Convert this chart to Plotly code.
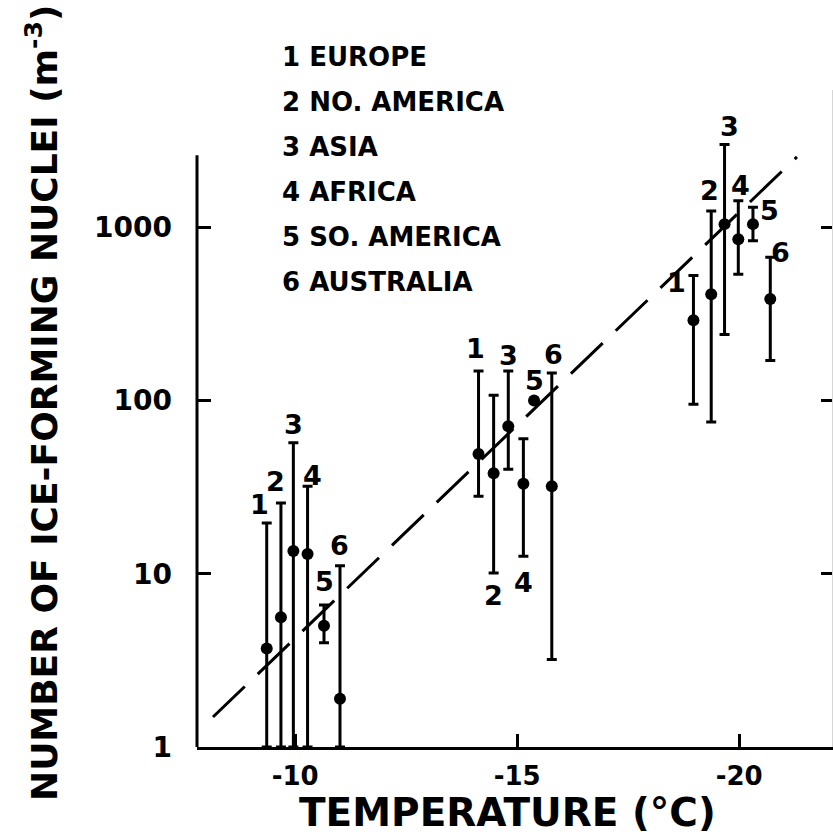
import math
import plotly.graph_objects as go

# ---- data -------------------------------------------------------------
regions = ["EUROPE", "NO. AMERICA", "ASIA", "AFRICA", "SO. AMERICA", "AUSTRALIA"]

# measurements grouped around -10 °C (region order as above)
temp_10 = [-9.36, -9.68, -9.96, -10.28, -10.65, -11.01]
ifn_10 = [3.7, 5.6, 13.5, 13.0, 5.0, 1.9]
ifn_10_high = [19.6, 25.6, 57.0, 32.0, 6.6, 11.1]
ifn_10_low = [1.0, 1.0, 1.0, 1.0, 4.0, 1.0]

# measurements grouped around -15 °C
temp_15 = [-14.13, -14.47, -14.80, -15.14, -15.38, -15.78]
ifn_15 = [49.0, 38.0, 71.0, 33.0, 100.0, 32.0]
ifn_15_high = [148.0, 107.0, 148.0, 60.0, 100.0, 144.0]
ifn_15_low = [28.0, 10.1, 40.0, 12.6, 100.0, 3.2]

# measurements grouped around -20 °C
temp_20 = [-18.97, -19.37, -19.67, -19.98, -20.31, -20.70]
ifn_20 = [290.0, 410.0, 1040.0, 850.0, 1040.0, 385.0]
ifn_20_high = [525.0, 1240.0, 3000.0, 1420.0, 1300.0, 670.0]
ifn_20_low = [95.0, 75.0, 240.0, 535.0, 835.0, 170.0]

# fitted exponential trend (end points)
fit_temp = [-8.15, -21.3]
fit_ifn = [1.49, 2540.0]

x_tickvals = [-10, -15, -20]
x_ticktext = ["-10", "-15", "-20"]
y_tickvals = [1, 10, 100, 1000]
y_ticktext = ["1", "10", "100", "1000"]
y_axis_top = 2600.0   # where the drawn left axis line ends

# ---- layout constants -------------------------------------------------
W, H = 833, 837
ML, MR, MT, MB = 197, 1, 90, 90
X_RANGE = [-7.79, -22.09]
Y_RANGE = [0.0, 3.791]
FONT = "DejaVu Sans"

# number labels: (anchor, x shift px, y shift px, +y = up)
label_style_10 = [("high", -7, 19), ("high", -5, 21), ("high", 0, 18),
                  ("high", 5, 11), ("high", 0, 23), ("high", 0, 20)]
label_style_15 = [("high", -3, 22), ("low", 0, -23), ("high", 0, 15),
                  ("low", 0, -26), ("value", 0, 20), ("high", 2, 18)]
label_style_20 = [("high", -17, -7), ("high", -2, 20), ("high", 5, 18),
                  ("high", 2, 15), ("high", 17, -3), ("high", 10, 5)]


def paper_x(px):
    return (px - ML) / (W - ML - MR)


def paper_y(py):
    return (H - MB - py) / (H - MT - MB)


fig = go.Figure()

# dashed trend line
fig.add_trace(go.Scatter(
    x=fit_temp, y=fit_ifn, mode="lines",
    line=dict(color="black", width=3, dash="44px,18px"),
    hoverinfo="skip",
))

groups = [
    (temp_10, ifn_10, ifn_10_high, ifn_10_low, label_style_10),
    (temp_15, ifn_15, ifn_15_high, ifn_15_low, label_style_15),
    (temp_20, ifn_20, ifn_20_high, ifn_20_low, label_style_20),
]

annotations = []
for temps, vals, highs, lows, styles in groups:
    fig.add_trace(go.Scatter(
        x=temps, y=vals, mode="markers",
        marker=dict(color="black", size=12, symbol="circle"),
        error_y=dict(
            type="data", symmetric=False,
            array=[h - v for h, v in zip(highs, vals)],
            arrayminus=[v - lo for v, lo in zip(vals, lows)],
            color="black", thickness=3, width=5,
        ),
    ))
    for i, (t, v, hi, lo) in enumerate(zip(temps, vals, highs, lows)):
        anchor, dx, dy = styles[i]
        ref = {"high": hi, "low": lo, "value": v}[anchor]
        annotations.append(dict(
            x=t, y=math.log10(ref), xref="x", yref="y",
            text=str(i + 1), showarrow=False,
            xanchor="center", yanchor="middle",
            xshift=dx, yshift=dy,
            font=dict(family=FONT, size=27, color="black", weight="bold"),
        ))

# region key
for i, name in enumerate(regions):
    annotations.append(dict(
        x=paper_x(280), y=paper_y(57 + 45 * i), xref="paper", yref="paper",
        text=f"{i + 1} {name}", showarrow=False,
        xanchor="left", yanchor="middle",
        font=dict(family=FONT, size=26, color="black", weight="bold"),
    ))

# axis titles
annotations.append(dict(
    x=paper_x(42), y=paper_y(403), xref="paper", yref="paper",
    text="NUMBER OF ICE-FORMING NUCLEI (m<sup>-3</sup>)", textangle=-90,
    showarrow=False, xanchor="center", yanchor="middle",
    font=dict(family=FONT, size=36, color="black", weight="bold"),
))
annotations.append(dict(
    x=paper_x(507), y=paper_y(812), xref="paper", yref="paper",
    text="TEMPERATURE (°C)", showarrow=False,
    xanchor="center", yanchor="middle",
    font=dict(family=FONT, size=39, color="black", weight="bold"),
))

# left axis line stops at the top of the scale
shapes = [dict(
    type="line", xref="paper", yref="y",
    x0=0, x1=0, y0=y_tickvals[0], y1=y_axis_top,
    line=dict(color="black", width=3),
)]

# right-hand axis carrying only the decade ticks
fig.add_trace(go.Scatter(x=[None], y=[None], yaxis="y2", showlegend=False))

fig.update_layout(
    width=W, height=H,
    margin=dict(l=ML, r=MR, t=MT, b=MB),
    paper_bgcolor="white", plot_bgcolor="white",
    showlegend=False,
    annotations=annotations,
    shapes=shapes,
    xaxis=dict(
        range=X_RANGE, showgrid=False, zeroline=False,
        showline=True, linecolor="black", linewidth=3,
        ticks="inside", ticklen=13, tickwidth=2.5, tickcolor="black",
        tickvals=x_tickvals, ticktext=x_ticktext,
        tickfont=dict(family=FONT, size=26, color="black", weight="bold"),
        ticklabelstandoff=4,
    ),
    yaxis=dict(
        type="log", range=Y_RANGE, showgrid=False, zeroline=False,
        showline=False,
        ticks="inside", ticklen=14, tickwidth=2.5, tickcolor="black",
        tickvals=y_tickvals, ticktext=y_ticktext,
        tickfont=dict(family=FONT, size=28, color="black", weight="bold"),
        ticklabelstandoff=24,
    ),
    yaxis2=dict(
        type="log", range=Y_RANGE, overlaying="y", side="right",
        showgrid=False, zeroline=False,
        showline=True, linecolor="#d6d6d6", linewidth=1,
        ticks="inside", ticklen=11, tickwidth=3, tickcolor="black",
        tickvals=y_tickvals[1:], showticklabels=False,
    ),
)

fig.write_html("out.html")
